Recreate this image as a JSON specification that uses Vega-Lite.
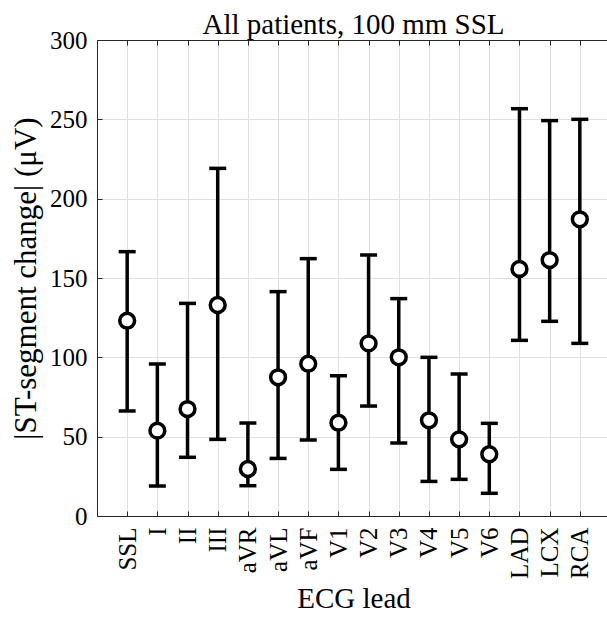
{
  "$schema": "https://vega.github.io/schema/vega-lite/v6.json",
  "width": 513,
  "height": 476,
  "autosize": "none",
  "padding": {"left": 97, "top": 40, "right": 0, "bottom": 101},
  "background": "white",
  "title": {"text": "All patients, 100 mm SSL", "font": "Liberation Serif", "fontSize": 29, "fontWeight": "normal", "color": "black", "anchor": "middle", "offset": -12},
  "config": {
    "view": {"stroke": "#262626", "strokeWidth": 1},
    "axis": {"labelFont": "Liberation Serif", "titleFont": "Liberation Serif", "labelColor": "black", "titleColor": "black", "titleFontWeight": "normal", "domainColor": "#262626", "tickColor": "#262626", "gridColor": "#dfdfdf", "gridWidth": 1}
  },
  "data": {"values": [
    {"lead": "SSL", "mean": 123.1, "lo": 66.2, "hi": 166.6},
    {"lead": "I", "mean": 53.8, "lo": 18.9, "hi": 95.8},
    {"lead": "II", "mean": 67.4, "lo": 37.0, "hi": 134.0},
    {"lead": "III", "mean": 133.0, "lo": 48.3, "hi": 219.1},
    {"lead": "aVR", "mean": 29.6, "lo": 19.1, "hi": 58.6},
    {"lead": "aVL", "mean": 87.4, "lo": 36.3, "hi": 141.4},
    {"lead": "aVF", "mean": 96.0, "lo": 47.9, "hi": 162.2},
    {"lead": "V1", "mean": 58.8, "lo": 29.4, "hi": 88.4},
    {"lead": "V2", "mean": 108.8, "lo": 69.3, "hi": 164.5},
    {"lead": "V3", "mean": 100.0, "lo": 46.0, "hi": 137.0},
    {"lead": "V4", "mean": 60.3, "lo": 21.8, "hi": 100.0},
    {"lead": "V5", "mean": 48.3, "lo": 23.1, "hi": 89.5},
    {"lead": "V6", "mean": 38.9, "lo": 14.3, "hi": 58.4},
    {"lead": "LAD", "mean": 155.7, "lo": 110.7, "hi": 256.7},
    {"lead": "LCX", "mean": 161.3, "lo": 122.7, "hi": 249.2},
    {"lead": "RCA", "mean": 187.0, "lo": 108.8, "hi": 250.0}
  ]},
  "resolve": {"axis": {"x": "independent", "y": "independent"}},
  "layer": [
    {
      "mark": {"type": "rule", "strokeWidth": 3.5, "color": "black"},
      "encoding": {
        "x": {"field": "lead", "type": "nominal", "sort": null, "scale": {"type": "point", "padding": 1},
              "axis": {"orient": "bottom", "title": "ECG lead", "titleFontSize": 29, "titlePadding": 6, "labelFontSize": 25, "labelAngle": -90, "labelAlign": "right", "labelBaseline": "middle", "labelPadding": 16, "tickSize": -5, "grid": true}},
        "y": {"field": "lo", "type": "quantitative", "scale": {"domain": [0, 300], "nice": false},
              "axis": {"title": "|ST-segment change| (μV)", "titleFontSize": 31, "titlePadding": 7, "labelFontSize": 25, "labelPadding": 15, "tickSize": -5, "values": [0, 50, 100, 150, 200, 250, 300], "grid": true}},
        "y2": {"field": "hi"}
      }
    },
    {
      "mark": {"type": "tick", "thickness": 3.5, "size": 17, "color": "black", "orient": "horizontal", "opacity": 1},
      "encoding": {
        "x": {"field": "lead", "type": "nominal", "sort": null,
              "axis": {"orient": "top", "title": null, "labels": false, "tickSize": -5, "grid": false}},
        "y": {"field": "lo", "type": "quantitative", "axis": null}
      }
    },
    {
      "mark": {"type": "tick", "thickness": 3.5, "size": 17, "color": "black", "orient": "horizontal", "opacity": 1},
      "encoding": {
        "x": {"field": "lead", "type": "nominal", "sort": null, "axis": null},
        "y": {"field": "hi", "type": "quantitative", "axis": null}
      }
    },
    {
      "mark": {"type": "point", "shape": "circle", "filled": false, "fill": "white", "fillOpacity": 1, "stroke": "black", "strokeWidth": 3.5, "size": 220, "opacity": 1},
      "encoding": {
        "x": {"field": "lead", "type": "nominal", "sort": null, "axis": null},
        "y": {"field": "mean", "type": "quantitative", "axis": null}
      }
    }
  ]
}
